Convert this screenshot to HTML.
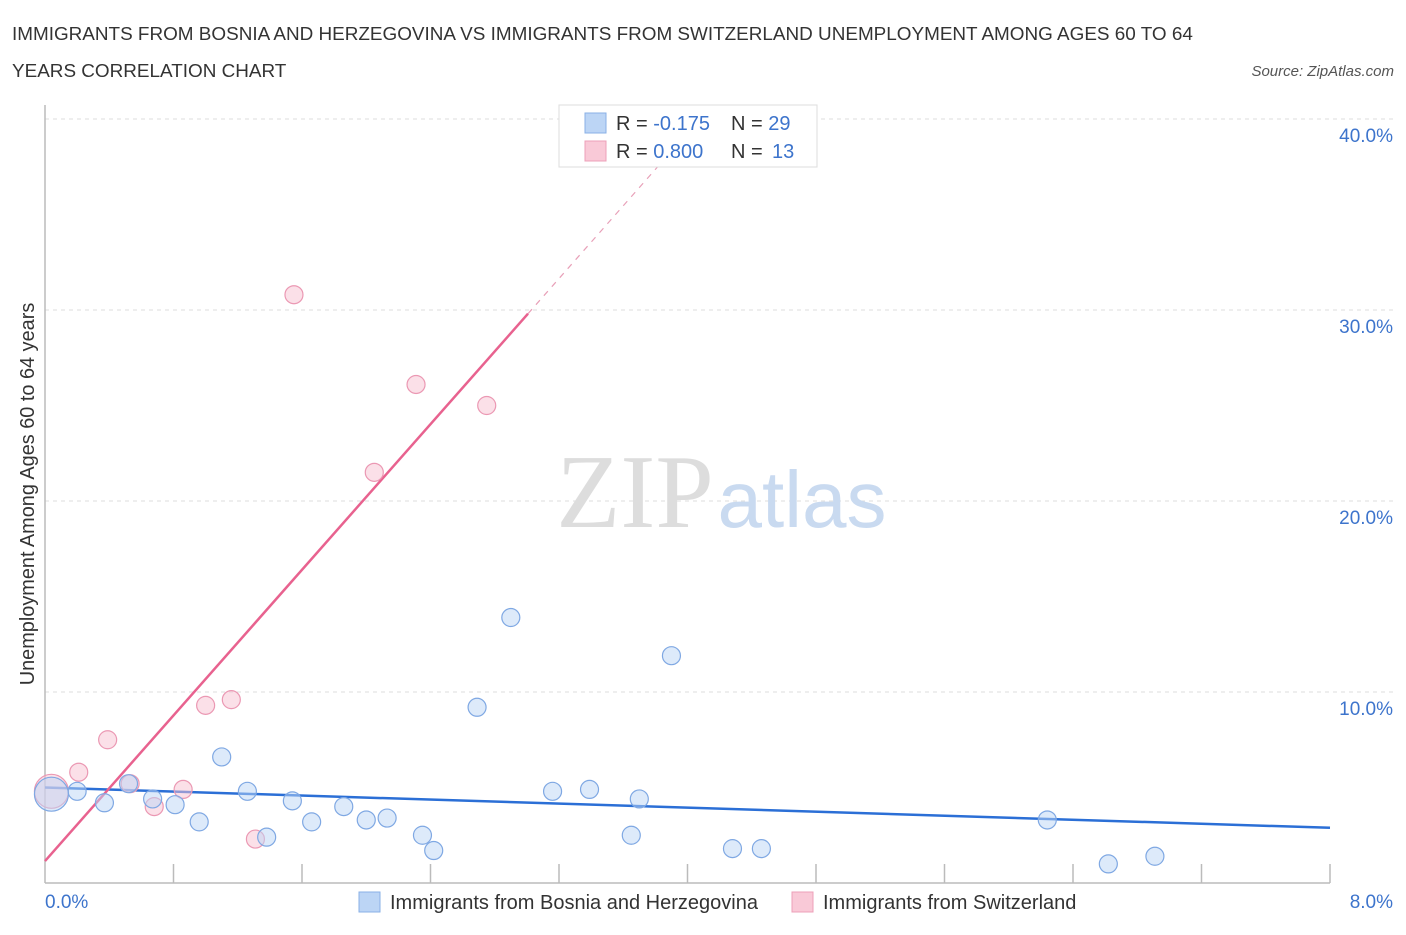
<!DOCTYPE html>
<html><head><meta charset="utf-8"><style>
body{margin:0;background:#fff;font-family:"Liberation Sans",sans-serif;}
</style></head><body>
<svg width="1406" height="930" xmlns="http://www.w3.org/2000/svg" font-family="Liberation Sans, sans-serif">
<text x="12" y="40" font-size="18.9" fill="#333">IMMIGRANTS FROM BOSNIA AND HERZEGOVINA VS IMMIGRANTS FROM SWITZERLAND UNEMPLOYMENT AMONG AGES 60 TO 64</text>
<text x="12" y="77" font-size="18.9" fill="#333">YEARS CORRELATION CHART</text>
<text x="1394" y="76" font-size="15" fill="#555" font-style="italic" text-anchor="end">Source: ZipAtlas.com</text>
<g id="grid"></g>
<text x="635" y="527" font-size="105" fill="#ddd" font-family="Liberation Serif, serif" text-anchor="middle">ZIP</text>
<text x="802" y="527" font-size="80" fill="#c9daf0" text-anchor="middle">atlas</text>
<text transform="translate(34,494) rotate(-90)" font-size="19.9" fill="#333" text-anchor="middle">Unemployment Among Ages 60 to 64 years</text>
<g id="axes"></g>
<g id="lines"></g>
<g id="pts"></g>
<g>
<rect x="559" y="105" width="258" height="62" fill="#fff" stroke="#ddd"/>
<rect x="585" y="113" width="21" height="20" fill="#bcd5f5" stroke="#8ab0e6"/>
<rect x="585" y="141" width="21" height="20" fill="#f9c9d7" stroke="#eda0b8"/>
<text x="616" y="130" font-size="20" fill="#333">R = <tspan fill="#3d74cc">-0.175</tspan><tspan x="731">N = </tspan><tspan fill="#3d74cc">29</tspan></text>
<text x="616" y="158" font-size="20" fill="#333">R = <tspan fill="#3d74cc">0.800</tspan><tspan x="731">N = </tspan><tspan fill="#3d74cc" x="772">13</tspan></text>
</g>
<g>
<rect x="359" y="892" width="21" height="20" fill="#bcd5f5" stroke="#8ab0e6"/>
<text x="390" y="909" font-size="20" fill="#333">Immigrants from Bosnia and Herzegovina</text>
<rect x="792" y="892" width="21" height="20" fill="#f9c9d7" stroke="#eda0b8"/>
<text x="823" y="909" font-size="20" fill="#333">Immigrants from Switzerland</text>
</g>
</svg>
<script>
const yTicks=[10,20,30,40];
const yTickLabels=["10.0%","20.0%","30.0%","40.0%"];
const xTickCount=10;
const blueX=[0.2,0.37,0.52,0.67,0.81,0.96,1.10,1.26,1.38,1.54,1.66,1.86,2.00,2.13,2.35,2.42,2.69,2.90,3.16,3.39,3.65,3.70,3.90,4.28,4.46,6.24,6.62,6.91,0.04];
const blueY=[4.8,4.2,5.2,4.4,4.1,3.2,6.6,4.8,2.4,4.3,3.2,4.0,3.3,3.4,2.5,1.7,9.2,13.9,4.8,4.9,2.5,4.4,11.9,1.8,1.8,3.3,1.0,1.4,4.65];
const pinkX=[0.04,0.21,0.39,0.53,0.68,0.86,1.0,1.16,1.31,1.55,2.05,2.31,2.75];
const pinkY=[4.8,5.8,7.5,5.2,4.0,4.9,9.3,9.6,2.3,30.8,21.5,26.1,25.0];
const blueTrend=[5.0,2.89];
const pinkTrend=[1.15,9.53];
const NS="http://www.w3.org/2000/svg";
const sx=v=>45+v/8*1285, sy=v=>883-v*19.1;
function mk(t,a,p){const e=document.createElementNS(NS,t);for(const k in a)e.setAttribute(k,a[k]);document.getElementById(p).appendChild(e);return e;}
yTicks.forEach((t,i)=>{
 const l=mk('line',{x1:45,x2:1394,y1:sy(t),y2:sy(t),stroke:'#ddd','stroke-dasharray':'4,4'},'grid');
 
 
 const tx=mk('text',{x:1393,y:sy(t)+23,'font-size':19,fill:'#3d74cc','text-anchor':'end'},'axes');
 tx.textContent=yTickLabels[i];
 
 
});
let a=mk('line',{x1:45,x2:45,y1:105,y2:883,stroke:'#bbb','stroke-width':1.5},'axes');


a=mk('line',{x1:45,x2:1330,y1:883,y2:883,stroke:'#bbb','stroke-width':1.5},'axes');


for(let i=1;i<=xTickCount;i++){const x=sx(i*0.8);const t=mk('line',{x1:x,x2:x,y1:864,y2:883,stroke:'#bbb','stroke-width':1.5},'axes');
 
 }
a=mk('text',{x:45,y:908,'font-size':19,fill:'#3d74cc'},'axes');a.textContent='0.0%';


a=mk('text',{x:1393,y:908,'font-size':19,fill:'#3d74cc','text-anchor':'end'},'axes');a.textContent='8.0%';


function pts(X,Y,fill,stroke,name){X.forEach((x,i)=>{const big=i==X.length-1&&x<0.1||(name=='pink-point'&&i==0);
 const c=mk('circle',{cx:sx(x),cy:sy(Y[i]),r:big?17:9,fill:fill,'fill-opacity':0.5,stroke:stroke,'stroke-width':1.2},'pts');
 
 });}
pts(pinkX,pinkY,'#f7c1d2','#eb98b3','pink-point');
pts(blueX,blueY,'#bcd5f5','#7fa8e3','blue-point');
let l=mk('line',{x1:sx(0),y1:sy(blueTrend[0]),x2:sx(8),y2:sy(blueTrend[1]),stroke:'#2b6fd6','stroke-width':2.5},'lines');


const xs=3.007;
l=mk('line',{x1:sx(0),y1:sy(pinkTrend[0]),x2:sx(xs),y2:sy(pinkTrend[0]+pinkTrend[1]*xs),stroke:'#e8628f','stroke-width':2.5},'lines');


const xe=(40-pinkTrend[0])/pinkTrend[1];
l=mk('line',{x1:sx(xs),y1:sy(pinkTrend[0]+pinkTrend[1]*xs),x2:sx(xe),y2:sy(40),stroke:'#e8a0b8','stroke-width':1.2,'stroke-dasharray':'6,6'},'lines');


</script>
</body></html>
